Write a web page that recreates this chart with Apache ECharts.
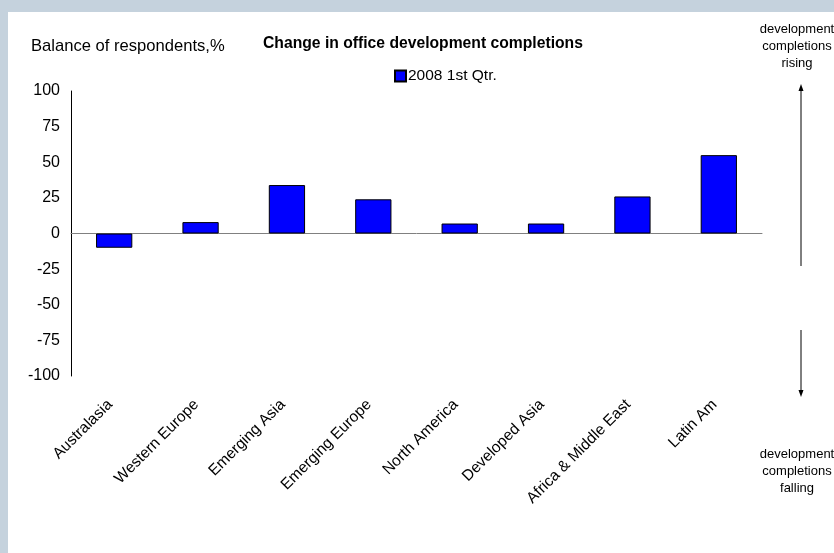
<!DOCTYPE html>
<html><head><meta charset="utf-8">
<script src="https://cdn.jsdelivr.net/npm/echarts@6/dist/echarts.min.js"></script>
<style>html,body{margin:0;padding:0;background:#fff}#c{width:834px;height:553px}</style>
</head><body><div id="c"></div>
<script>
const categories = ["Australasia","Western Europe","Emerging Asia","Emerging Europe","North America","Developed Asia","Africa & Middle East","Latin Am"];
const values2008Q1 = [-10, 8, 34, 24, 7, 7, 26, 55];
const seriesName = "2008 1st Qtr.";
const yTicks = {min: -100, max: 100, interval: 25};

const F = 'Liberation Sans, Arial, sans-serif';
const chart = echarts.init(document.getElementById('c'), null, {renderer: 'canvas'});
chart.setOption({
  animation: false,
  backgroundColor: '#fff',
  textStyle: {fontFamily: F},
  title: {text: 'Change in office development completions', left: 258, top: 31,
    textStyle: {fontFamily: F, fontWeight: 'bold', fontSize: 15.7, color: '#000'}},
  legend: {data: [seriesName], left: 389, top: 63, itemWidth: 11, itemHeight: 11, itemGap: 4,
    icon: 'rect', textStyle: {fontFamily: F, fontSize: 15.5, color: '#000', padding: [0,0,0,-3]}},
  grid: {left: 71, right: 72, top: 91, bottom: 177, containLabel: false},
  xAxis: {type: 'category', data: categories,
    axisLine: {onZero: true, lineStyle: {color: '#808080', width: 1}},
    axisTick: {show: false},
    axisLabel: {rotate: 45, interval: 0, margin: 22, padding: [0, 6, 0, 0], fontFamily: F, fontSize: 15.5, color: '#000'}},
  yAxis: {type: 'value', min: yTicks.min, max: yTicks.max, interval: yTicks.interval,
    splitLine: {show: false},
    axisLine: {show: true, lineStyle: {color: '#000', width: 1}},
    axisTick: {show: false},
    axisLabel: {margin: 11, fontFamily: F, fontSize: 16, color: '#000'}},
  series: [{name: seriesName, type: 'bar', data: values2008Q1, barWidth: '42%',
    itemStyle: {color: '#0000ff', borderColor: '#000', borderWidth: 1}}],
  graphic: [
    {type: 'rect', shape: {x: 0, y: 0, width: 834, height: 12}, style: {fill: '#c5d2dd'}, silent: true},
    {type: 'rect', shape: {x: 0, y: 0, width: 8, height: 553}, style: {fill: '#c5d2dd'}, silent: true},
    {type: 'text', left: 31, top: 38, style: {text: 'Balance of respondents,%', font: '16.6px ' + F, fill: '#000'}},
    {type: 'text', x: 797, y: 21, style: {text: 'development\ncompletions\nrising', font: '13px ' + F, fill: '#000', align: 'center', lineHeight: 17}},
    {type: 'text', x: 797, y: 446, style: {text: 'development\ncompletions\nfalling', font: '13px ' + F, fill: '#000', align: 'center', lineHeight: 17}},
    {type: 'line', shape: {x1: 801, y1: 90, x2: 801, y2: 266}, style: {stroke: '#000', lineWidth: 1}},
    {type: 'polygon', shape: {points: [[801, 84], [798.5, 91], [803.5, 91]]}, style: {fill: '#000'}},
    {type: 'line', shape: {x1: 801, y1: 330, x2: 801, y2: 391}, style: {stroke: '#000', lineWidth: 1}},
    {type: 'polygon', shape: {points: [[801, 397], [798.5, 390], [803.5, 390]]}, style: {fill: '#000'}}
  ]
});
</script></body></html>
